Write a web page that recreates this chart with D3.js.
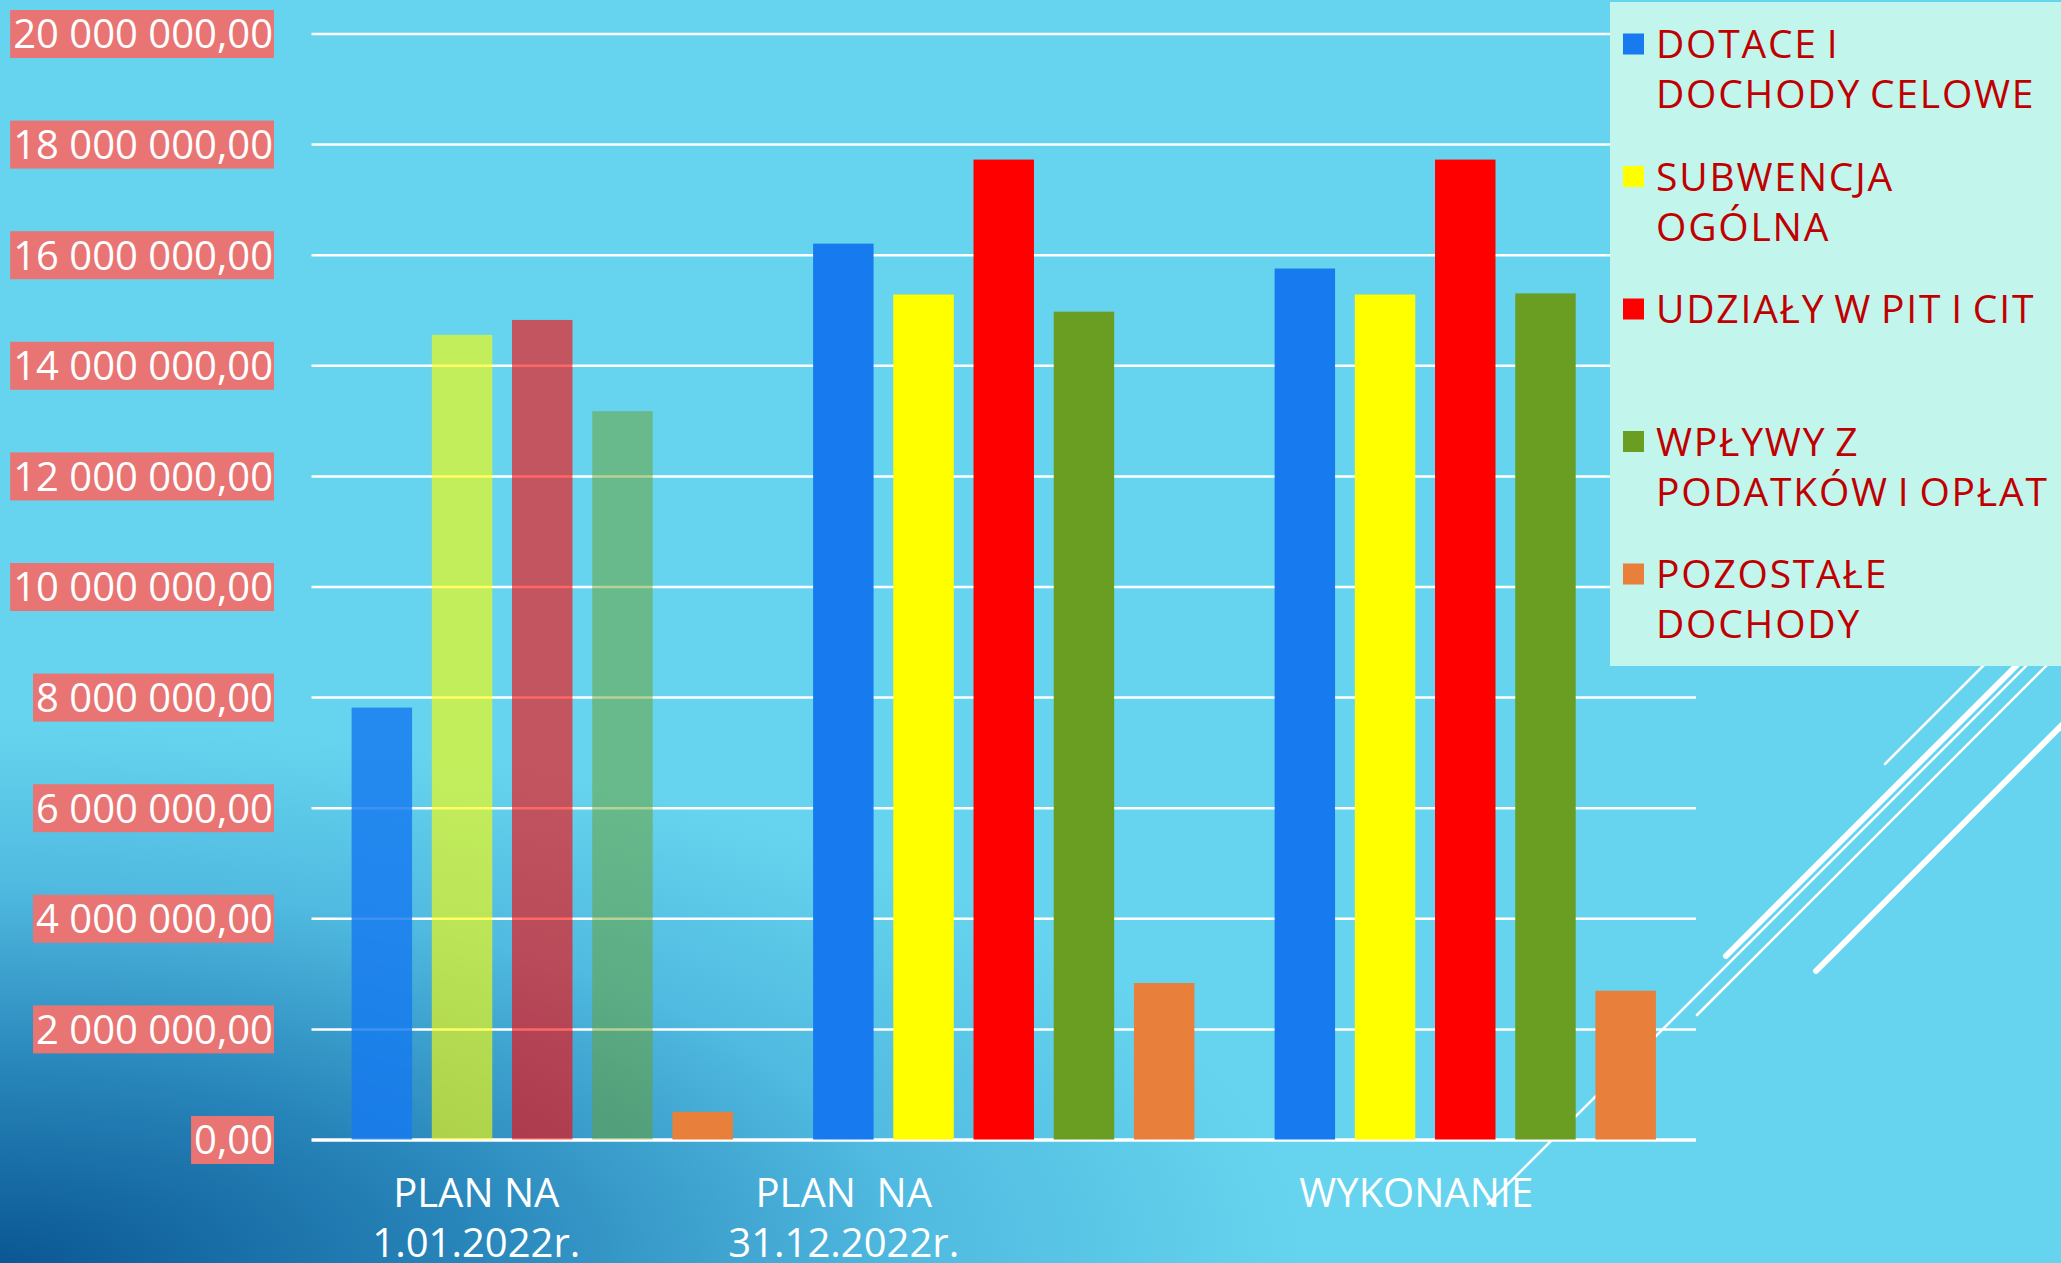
<!DOCTYPE html>
<html>
<head>
<meta charset="utf-8">
<script src="https://cdn.jsdelivr.net/npm/d3@7"></script>
<style>
  body { margin: 0; overflow: hidden; }
  svg { display: block; }
  .tick-label { font-family: "Open Sans", sans-serif; font-size: 40px; fill: #ffffff; }
  .legend-text { font-family: "Open Sans", sans-serif; font-size: 39px; fill: #C00000; letter-spacing: 1.8px; word-spacing: -3px; }
</style>
</head>
<body>
<div class="chart"></div>
<script>
// data
var categories = ["PLAN NA 1.01.2022r.", "PLAN NA 31.12.2022r.", "WYKONANIE"];
var categoryLines = [["PLAN NA", "1.01.2022r."], ["PLAN  NA", "31.12.2022r."], ["WYKONANIE"]];
var seriesNames = ["DOTACE I DOCHODY CELOWE", "SUBWENCJA OGÓLNA", "UDZIAŁY W PIT I CIT", "WPŁYWY Z PODATKÓW I OPŁAT", "POZOSTAŁE DOCHODY"];
var legendLines = [["DOTACE I", "DOCHODY CELOWE"], ["SUBWENCJA", "OGÓLNA"], ["UDZIAŁY W PIT I CIT"], ["WPŁYWY Z", "PODATKÓW I OPŁAT"], ["POZOSTAŁE", "DOCHODY"]];
var dotacje = [7810000, 16200000, 15750000];
var subwencja = [14550000, 15280000, 15280000];
var udzialy = [14820000, 17720000, 17720000];
var wplywy = [13170000, 14970000, 15300000];
var pozostale = [500000, 2830000, 2690000];
var yTicks = [0, 2000000, 4000000, 6000000, 8000000, 10000000, 12000000, 14000000, 16000000, 18000000, 20000000];

// styles
var seriesColors = ["#177BEF", "#FFFF00", "#FF0000", "#6A9E22", "#E87F3A"];
var firstGroupOpacity = [0.83, 0.61, 0.6, 0.48, 1];
var labelShift = [-66, -160, -49];

var svgWidth = 2061;
var svgHeight = 1263;
var plot = { left: 311.5, right: 1696, top: 33.5, bottom: 1139.5 };

var allValues = [dotacje, subwencja, udzialy, wplywy, pozostale];
var table = [];
categories.forEach(function(c, ci) {
  seriesNames.forEach(function(s, si) {
    table.push({ cat: c, ci: ci, series: s, si: si, value: allValues[si][ci] });
  });
});

var svg = d3.select(".chart")
  .append("svg")
  .attr("width", svgWidth)
  .attr("height", svgHeight);

// background of the slide
var defs = svg.append("defs");
var grad = defs.append("radialGradient")
  .attr("id", "bg")
  .attr("gradientUnits", "userSpaceOnUse")
  .attr("cx", 0).attr("cy", svgHeight).attr("r", 1)
  .attr("gradientTransform", `translate(0,${svgHeight}) scale(1300,540) translate(0,${-svgHeight})`);
grad.append("stop").attr("offset", 0).attr("stop-color", "#0A5793");
grad.append("stop").attr("offset", 0.35).attr("stop-color", "#2784B9");
grad.append("stop").attr("offset", 0.7).attr("stop-color", "#50BAE0");
grad.append("stop").attr("offset", 1).attr("stop-color", "#66D4EE");

svg.append("rect")
  .attr("width", svgWidth)
  .attr("height", svgHeight)
  .attr("fill", "#66D4EE");
svg.append("rect")
  .attr("width", svgWidth)
  .attr("height", svgHeight)
  .attr("fill", "url(#bg)");

// decorative strokes of the slide theme
var deco = [
  [1885, 764, 1990, 659, 2.5],
  [1726, 956, 2030, 652, 6],
  [1488, 1204, 2040, 652, 2.5],
  [1697, 1015, 2060, 652, 2.5],
  [1816, 971, 2080, 707, 6]
];
svg.append("g").selectAll("line")
  .data(deco)
  .enter()
  .append("line")
  .attr("x1", d => d[0]).attr("y1", d => d[1])
  .attr("x2", d => d[2]).attr("y2", d => d[3])
  .attr("stroke", "#ffffff")
  .attr("stroke-width", d => d[4])
  .attr("stroke-linecap", "round");

// scales
var x0 = d3.scaleBand()
  .domain(categories)
  .range([plot.left, plot.right]);

var x1 = d3.scaleBand()
  .domain(seriesNames)
  .range([0, x0.bandwidth()])
  .paddingInner(0.246)
  .paddingOuter(0.5);

var y = d3.scaleLinear()
  .domain([0, 20000000])
  .range([plot.bottom, plot.top]);

var plLocale = d3.formatLocale({ decimal: ",", thousands: " ", grouping: [3], currency: ["", ""] });
var fmt = plLocale.format(",.2f");

// gridlines
var grid = svg.append("g")
  .attr("transform", `translate(${plot.left},0)`)
  .call(d3.axisLeft(y).tickValues(yTicks).tickSize(-(plot.right - plot.left)).tickFormat(""));
grid.select(".domain").remove();
grid.selectAll(".tick line")
  .attr("stroke", "#ffffff")
  .attr("stroke-width", d => d === 0 ? 3.5 : 2.5);

// bars
svg.append("g").selectAll("rect")
  .data(table)
  .enter()
  .append("rect")
  .attr("x", d => x0(d.cat) + x1(d.series))
  .attr("y", d => y(d.value))
  .attr("width", x1.bandwidth())
  .attr("height", d => y(0) - y(d.value))
  .attr("fill", d => seriesColors[d.si])
  .attr("fill-opacity", d => d.ci === 0 ? firstGroupOpacity[d.si] : 1);

// y axis labels in pink boxes
var yAxis = svg.append("g")
  .attr("transform", "translate(273,0)")
  .call(d3.axisLeft(y).tickValues(yTicks).tickSize(0).tickPadding(0).tickFormat(fmt));
yAxis.select(".domain").remove();
yAxis.selectAll(".tick text")
  .attr("class", "tick-label")
  .attr("x", 0)
  .attr("dy", "0.36em")
  .attr("font-size", null)
  .attr("font-family", null)
  .attr("fill", null);
yAxis.selectAll(".tick").each(function() {
  var t = d3.select(this);
  var bb = t.select("text").node().getBBox();
  t.insert("rect", "text")
    .attr("x", bb.x - 3)
    .attr("y", -24)
    .attr("width", bb.width + 4)
    .attr("height", 48)
    .attr("fill", "#E87473");
});

// category labels
var xLabels = svg.append("g").selectAll("text")
  .data(categories)
  .enter()
  .append("text")
  .attr("class", "tick-label")
  .attr("text-anchor", "middle")
  .attr("x", (d, i) => x0(d) + x0.bandwidth() / 2 + labelShift[i])
  .attr("y", 1207);
xLabels.selectAll("tspan")
  .data((d, i) => categoryLines[i])
  .enter()
  .append("tspan")
  .attr("x", function() { return d3.select(this.parentNode).attr("x"); })
  .attr("dy", (d, i) => i === 0 ? 0 : 50)
  .style("white-space", "pre")
  .text(d => d);

// legend
var legend = svg.append("g");
legend.append("rect")
  .attr("x", 1610)
  .attr("y", 2)
  .attr("width", svgWidth - 1610)
  .attr("height", 664)
  .attr("fill", "#C2F5EC");

var item = legend.selectAll(".item")
  .data(seriesNames)
  .enter()
  .append("g")
  .attr("class", "item")
  .attr("transform", (d, i) => `translate(1623,${44 + i * 132.5})`);

item.append("rect")
  .attr("x", 0)
  .attr("y", -10.5)
  .attr("width", 21)
  .attr("height", 21)
  .attr("fill", (d, i) => seriesColors[i]);

item.append("text")
  .attr("class", "legend-text")
  .attr("x", 33)
  .attr("y", 14)
  .selectAll("tspan")
  .data((d, i) => legendLines[i])
  .enter()
  .append("tspan")
  .attr("x", 33)
  .attr("dy", (d, i) => i === 0 ? 0 : 50)
  .text(d => d);
</script>
</body>
</html>
